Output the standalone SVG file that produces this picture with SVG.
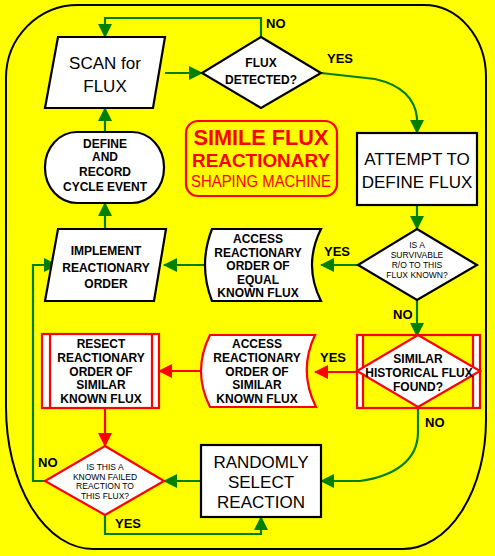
<svg xmlns="http://www.w3.org/2000/svg" width="495" height="556" viewBox="0 0 495 556">
<defs>
<style>
.bg{fill:#ffff00}
.frame{fill:none;stroke:#000;stroke-width:2}
.bk{fill:#fff;stroke:#000;stroke-width:2.2}
.rd{fill:#fff;stroke:#ff0000;stroke-width:2.2}
.rdn{fill:none;stroke:#ff0000;stroke-width:2.2}
.g{fill:none;stroke:#008000;stroke-width:2.2}
.r{fill:none;stroke:#ff0000;stroke-width:2.2}
text{font-family:"Liberation Sans",Arial,Helvetica,sans-serif;text-anchor:middle;fill:#000}
.b{font-weight:bold;font-size:12px}
.n{font-size:17px}
.s{font-size:8.5px}
.lbl{font-weight:bold;font-size:13px;text-anchor:start}
.t{fill:#ff0000;font-weight:bold}
</style>
<marker id="ag" markerUnits="userSpaceOnUse" markerWidth="14" markerHeight="14" refX="13" refY="7" orient="auto" viewBox="0 0 14 14"><path d="M0,0 L14,7 L0,14 Z" fill="#008000"/></marker>
<marker id="ar" markerUnits="userSpaceOnUse" markerWidth="14" markerHeight="14" refX="13" refY="7" orient="auto" viewBox="0 0 14 14"><path d="M0,0 L14,7 L0,14 Z" fill="#ff0000"/></marker>
</defs>
<rect class="bg" x="0" y="0" width="495" height="556"/>
<path class="frame" d="M6,78 A72,73 0 0 1 78,5 H424 A62,72 0 0 1 486,77 V420 A83,129 0 0 1 403,549 H93 A87,142 0 0 1 6,407 Z"/>

<g id="connectors">
<path class="g" d="M261,37 V18 H105 V37" marker-end="url(#ag)"/>
<path class="g" d="M165,73 H202" marker-end="url(#ag)"/>
<path class="g" d="M321,73 L375,79 Q414,88 417,118 V133" marker-end="url(#ag)"/>
<path class="g" d="M417,205 V229" marker-end="url(#ag)"/>
<path class="g" d="M358,265 H321" marker-end="url(#ag)"/>
<path class="g" d="M417,300 V336" marker-end="url(#ag)"/>
<path class="g" d="M205,265 H164" marker-end="url(#ag)"/>
<path class="g" d="M105,229 V203" marker-end="url(#ag)"/>
<path class="g" d="M105,132 V108" marker-end="url(#ag)"/>
<path class="r" d="M358,372 H315" marker-end="url(#ar)"/>
<path class="r" d="M201,371 H159" marker-end="url(#ar)"/>
<path class="r" d="M105,408 V446" marker-end="url(#ar)"/>
<path class="g" d="M418,407 V432 C418,460 395,476 360,481 H321" marker-end="url(#ag)"/>
<path class="g" d="M201,481 H164" marker-end="url(#ag)"/>
<path class="g" d="M45,481 H33 V265 H57" marker-end="url(#ag)"/>
<path class="g" d="M105,515 V534 H261 V517" marker-end="url(#ag)"/>
<text class="lbl" x="266" y="28">NO</text>
<text class="lbl" x="327" y="63">YES</text>
<text class="lbl" x="324" y="256">YES</text>
<text class="lbl" x="393" y="319">NO</text>
<text class="lbl" x="320" y="362">YES</text>
<text class="lbl" x="425" y="427">NO</text>
<text class="lbl" x="38" y="467">NO</text>
<text class="lbl" x="115" y="528">YES</text>
</g>

<g id="scan">
<path class="bk" d="M58,37 H165 L153,108 H45 Z"/>
<text class="n" x="105" y="69">SCAN for</text>
<text class="n" x="105" y="92">FLUX</text>
</g>

<g id="detected">
<path class="bk" d="M261,37 L321,73 L261,108 L202,73 Z"/>
<text class="b" x="261" y="67" font-size="13">FLUX</text>
<text class="b" x="261" y="84" font-size="13">DETECTED?</text>
</g>

<g id="title">
<rect class="rdn" x="186" y="121" width="151" height="75" rx="12"/>
<text class="t" x="261" y="145" font-size="22" textLength="135" lengthAdjust="spacingAndGlyphs">SIMILE FLUX</text>
<text class="t" x="261" y="167" font-size="19" textLength="138" lengthAdjust="spacingAndGlyphs">REACTIONARY</text>
<text x="261" y="187" font-size="16" style="fill:#ff0000" textLength="140" lengthAdjust="spacingAndGlyphs">SHAPING MACHINE</text>
</g>

<g id="attempt">
<rect class="bk" x="357" y="133" width="120" height="72"/>
<text class="n" x="417" y="165">ATTEMPT TO</text>
<text class="n" x="417" y="188">DEFINE FLUX</text>
</g>

<g id="define">
<rect class="bk" x="45" y="132" width="119" height="71" rx="32" ry="35"/>
<text class="b" x="105" y="148" font-size="12.5">DEFINE</text>
<text class="b" x="105" y="161" font-size="11">AND</text>
<text class="b" x="105" y="176" font-size="12.5">RECORD</text>
<text class="b" x="105" y="191" font-size="12.5">CYCLE EVENT</text>
</g>

<g id="survivable">
<path class="bk" d="M417,229 L477,265 L417,300 L358,265 Z"/>
<text class="s" x="417" y="248">IS A</text>
<text class="s" x="417" y="258">SURVIVABLE</text>
<text class="s" x="417" y="268">R/O TO THIS</text>
<text class="s" x="417" y="278">FLUX KNOWN?</text>
</g>

<g id="access-equal">
<path class="bk" d="M212,229 H321 Q303,265 321,301 H212 Q198,265 212,229 Z"/>
<text class="b" x="258" y="243">ACCESS</text>
<text class="b" x="258" y="256.5">REACTIONARY</text>
<text class="b" x="258" y="270">ORDER OF</text>
<text class="b" x="258" y="283.5">EQUAL</text>
<text class="b" x="258" y="297">KNOWN FLUX</text>
</g>

<g id="implement">
<path class="bk" d="M58,229 H166 L154,301 H45 Z"/>
<text class="b" x="106" y="255" font-size="12.5">IMPLEMENT</text>
<text class="b" x="106" y="272" font-size="12.5">REACTIONARY</text>
<text class="b" x="106" y="288" font-size="12.5">ORDER</text>
</g>

<g id="historical">
<rect x="357" y="335" width="6" height="73" fill="#fff"/>
<rect x="473" y="335" width="7" height="73" fill="#fff"/>
<rect class="rdn" x="357" y="335" width="123" height="73"/>
<path class="r" d="M363,335 V408 M473,335 V408"/>
<path class="rd" d="M418,335 L480,371 L418,407 L357,371 Z"/>
<text class="b" x="418" y="363" font-size="12.5">SIMILAR</text>
<text class="b" x="419" y="377" font-size="12.5">HISTORICAL FLUX</text>
<text class="b" x="418" y="391" font-size="12.5">FOUND?</text>
</g>

<g id="access-similar">
<path class="rd" d="M210,335 H315 Q298,371 316,407 H210 Q192,371 210,335 Z"/>
<text class="b" x="257" y="348">ACCESS</text>
<text class="b" x="257" y="361.75">REACTIONARY</text>
<text class="b" x="257" y="375.5">ORDER OF</text>
<text class="b" x="257" y="389.25">SIMILAR</text>
<text class="b" x="257" y="403">KNOWN FLUX</text>
</g>

<g id="resect">
<rect class="rd" x="42" y="334" width="117" height="74"/>
<path class="r" d="M50,334 V408 M152,334 V408"/>
<text class="b" x="101" y="348">RESECT</text>
<text class="b" x="101" y="361.75">REACTIONARY</text>
<text class="b" x="101" y="375.5">ORDER OF</text>
<text class="b" x="101" y="389.25">SIMILAR</text>
<text class="b" x="101" y="403">KNOWN FLUX</text>
</g>

<g id="failed">
<path class="rd" d="M105,446 L164,481 L105,515 L45,481 Z"/>
<text class="s" x="105" y="470">IS THIS A</text>
<text class="s" x="105" y="479.7">KNOWN FAILED</text>
<text class="s" x="105" y="489.3">REACTION TO</text>
<text class="s" x="105" y="499">THIS FLUX?</text>
</g>

<g id="randomly">
<rect class="bk" x="201" y="445" width="120" height="72"/>
<text class="n" x="261" y="468">RANDOMLY</text>
<text class="n" x="261" y="488">SELECT</text>
<text class="n" x="261" y="508">REACTION</text>
</g>
</svg>
